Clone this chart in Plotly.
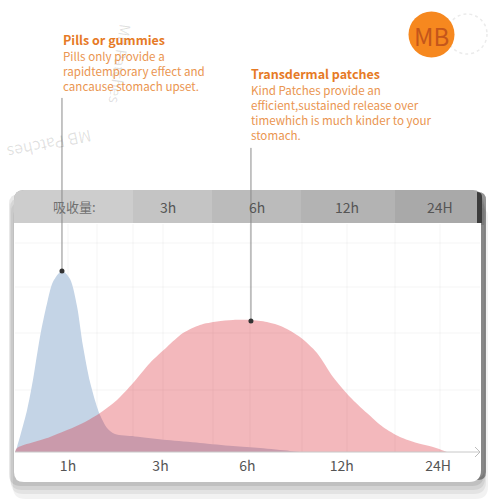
import plotly.graph_objects as go

W = H = 500
def X(p): return p / W
def Y(p): return 1 - p / H

# ---------------- data ----------------
time_labels = ["1h", "3h", "6h", "12h", "24H"]
time_pos = [1.0, 2.0, 2.94, 3.96, 5.0]
header_title = "吸收量:"
header_labels = ["3h", "6h", "12h", "24H"]

# Pills / gummies absorption (relative, peak = 100)
pill_x = [0.427, 0.449, 0.557, 0.622, 0.697, 0.773, 0.838, 0.935, 1.022, 1.097,
          1.162, 1.238, 1.314, 1.346, 1.422, 1.508, 1.724, 2.070, 2.427, 2.784,
          3.076, 3.400, 3.508]
pill_y = [0, 2.8, 23, 40, 63.5, 82, 94, 100, 95.6, 80.7,
          58.6, 38.7, 24.9, 20.4, 13.3, 9.9, 8.6, 6.6, 5.0, 3.3,
          2.2, 0.6, 0]

# Transdermal patch absorption
patch_x = [0.427, 0.449, 0.805, 1.162, 1.346, 1.530, 1.703, 1.886, 2.070, 2.243,
           2.427, 2.611, 2.784, 2.968, 3.151, 3.324, 3.508, 3.692, 3.865, 4.049,
           4.232, 4.405, 4.589, 4.773, 4.946, 5.097]
patch_y = [0, 2.2, 8.3, 16.0, 21.5, 28.7, 38.1, 49.2, 58.0, 65.7,
           70.2, 72.1, 72.9, 72.9, 71.8, 69.1, 63.5, 54.7, 41.4, 30.4,
           21.5, 13.8, 8.3, 5.0, 2.8, 0]

pill_peak = (0.935, 100)
patch_peak = (2.978, 72.4)
pill_leader_top = 195.6
patch_leader_top = 168.0

pill_title = "Pills or gummies"
pill_lines = ["Pills only provide a", "rapidtemporary effect and", "cancause stomach upset."]
patch_title = "Transdermal patches"
patch_lines = ["Kind Patches provide an", "efficient,sustained release over",
               "timewhich is much kinder to your", "stomach."]

FONT = "Noto Sans CJK SC"
TITLE_C = "#e67a26"
BODY_C = "#ea9550"

# ---------------- helpers ----------------
def rrect(x0, y0, x1, y1, r_tl, r_tr, r_br, r_bl):
    pts = []
    pts.append(f"M {X(x0 + r_tl)},{Y(y0)}")
    pts.append(f"L {X(x1 - r_tr)},{Y(y0)}")
    pts.append(f"Q {X(x1)},{Y(y0)} {X(x1)},{Y(y0 + r_tr)}")
    pts.append(f"L {X(x1)},{Y(y1 - r_br)}")
    pts.append(f"Q {X(x1)},{Y(y1)} {X(x1 - r_br)},{Y(y1)}")
    pts.append(f"L {X(x0 + r_bl)},{Y(y1)}")
    pts.append(f"Q {X(x0)},{Y(y1)} {X(x0)},{Y(y1 - r_bl)}")
    pts.append(f"L {X(x0)},{Y(y0 + r_tl)}")
    pts.append(f"Q {X(x0)},{Y(y0)} {X(x0 + r_tl)},{Y(y0)}")
    pts.append("Z")
    return " ".join(pts)

shapes = []
def pshape(path, fill, line=None, layer="below"):
    shapes.append(dict(type="path", xref="paper", yref="paper", path=path,
                       fillcolor=fill, line=dict(width=0) if line is None else line,
                       layer=layer))

# card shadow
for dx, dy, a in [(7, 17, 0.05), (5, 12, 0.06), (4, 8, 0.07), (3, 4, 0.09)]:
    pshape(rrect(14 + dx - 8, 190 + dy, 481 + dx, 482 + dy, 10, 10, 12, 12),
           f"rgba(0,0,0,{a})")
# dark right edge
pshape(rrect(470, 192, 486, 480, 0, 8, 8, 0), "rgba(60,60,60,0.55)")
pshape(rrect(470, 225, 484, 478, 0, 0, 8, 0), "rgba(150,150,150,0.5)")
# card body
pshape(rrect(14, 190, 481, 482, 10, 8, 12, 10), "white")

# grid
for gx in [68, 97, 133, 163, 213, 250, 302, 347, 395, 440]:
    shapes.append(dict(type="line", xref="paper", yref="paper", x0=X(gx), x1=X(gx),
                       y0=Y(224), y1=Y(452), line=dict(color="rgba(0,0,0,0.045)", width=1),
                       layer="below"))
for gy in [243, 287, 333, 390]:
    shapes.append(dict(type="line", xref="paper", yref="paper", x0=X(15), x1=X(480),
                       y0=Y(gy), y1=Y(gy), line=dict(color="rgba(0,0,0,0.045)", width=1),
                       layer="below"))

# header bar
pshape(rrect(14, 190, 481, 223, 10, 8, 0, 0), "#a9a9a9")
pshape(rrect(14, 190, 133, 223, 10, 0, 0, 0), "#cdcdcd")
for (a, b, c) in [(133, 212, "#c4c4c4"), (212, 301, "#bbbbbb"), (301, 395, "#b3b3b3")]:
    shapes.append(dict(type="rect", xref="paper", yref="paper", x0=X(a), x1=X(b),
                       y0=Y(223), y1=Y(190), fillcolor=c, line=dict(width=0), layer="below"))
pshape(rrect(477, 192, 482, 223, 0, 5, 0, 0), "#3c3c3c")

# baseline + arrow
shapes.append(dict(type="line", xref="paper", yref="paper", x0=X(15), x1=X(480),
                   y0=Y(452), y1=Y(452), line=dict(color="#c8c8c8", width=1), layer="above"))
for ay in [447, 457]:
    shapes.append(dict(type="line", xref="paper", yref="paper", x0=X(475), x1=X(480),
                       y0=Y(ay), y1=Y(452), line=dict(color="#bdbdbd", width=1), layer="above"))

# logo
shapes.append(dict(type="circle", xref="paper", yref="paper", x0=X(447), x1=X(487),
                   y0=Y(14), y1=Y(54), line=dict(color="#ebebeb", width=1.5, dash="dot"),
                   layer="below"))
shapes.append(dict(type="circle", xref="paper", yref="paper", x0=X(408.5), x1=X(454.5),
                   y0=Y(11.5), y1=Y(57.5), fillcolor="#f6881f", line=dict(width=0),
                   layer="below"))

# ---------------- traces ----------------
fig = go.Figure()
fig.add_trace(go.Scatter(x=pill_x, y=pill_y, mode="lines", line=dict(width=0, shape="spline", smoothing=0.8),
                         fill="tozeroy", fillcolor="#c4d4e6", hoverinfo="skip"))
fig.add_trace(go.Scatter(x=patch_x, y=patch_y, mode="lines", line=dict(width=0, shape="spline", smoothing=0.8),
                         fill="tozeroy", fillcolor="rgba(215,25,40,0.31)", hoverinfo="skip"))
for (px_, py_), top in [(pill_peak, pill_leader_top), (patch_peak, patch_leader_top)]:
    fig.add_trace(go.Scatter(x=[px_, px_], y=[py_, top], mode="lines",
                             line=dict(color="#8a8a8a", width=1), hoverinfo="skip"))
fig.add_trace(go.Scatter(x=[pill_peak[0], patch_peak[0]], y=[pill_peak[1], patch_peak[1]],
                         mode="markers", marker=dict(color="#333333", size=5), hoverinfo="skip"))

# ---------------- annotations ----------------
ann = []
def text(x, y, s, size, color, bold=False, anchor="left", angle=0):
    ann.append(dict(xref="paper", yref="paper", x=X(x), y=Y(y), text=f"<b>{s}</b>" if bold else s,
                    showarrow=False, xanchor=anchor, yanchor="middle", textangle=angle,
                    align="left", font=dict(family=FONT, size=size, color=color)))

# watermarks
text(50, 145, "MB Patches", 16, "rgba(0,0,0,0.12)", anchor="center", angle=168)
text(121, 64, "MB Patches", 15, "rgba(0,0,0,0.12)", anchor="center", angle=98)

text(61, 39.5, pill_title, 12.5, TITLE_C, bold=True)
text(61, 71, "<br>".join(pill_lines), 11.6, BODY_C)
text(249, 73.5, patch_title, 12.5, TITLE_C, bold=True)
text(249, 112.5, "<br>".join(patch_lines), 11.6, BODY_C)

text(74, 207, header_title, 13, "#707070", anchor="center")
for s, hx in zip(header_labels, [168, 257, 347, 440]):
    text(hx, 207, s, 14, "#555555", anchor="center")

text(431.5, 35, "MB", 24, "#c4561b", anchor="center")

fig.update_layout(
    width=W, height=H, margin=dict(l=0, r=0, t=0, b=0),
    paper_bgcolor="white", plot_bgcolor="rgba(0,0,0,0)",
    showlegend=False, shapes=shapes, annotations=ann,
    xaxis=dict(domain=[0, 1], range=[0.2649, 5.6703], tickvals=time_pos, ticktext=time_labels,
               showgrid=False, zeroline=False, showline=False, ticks="",
               tickfont=dict(family=FONT, size=14, color="#555555"), ticklabelstandoff=4,
               fixedrange=True),
    yaxis=dict(domain=[0.096, 1], range=[0, 249.7], visible=False, fixedrange=True),
)

fig.write_html("out.html", post_script="document.body.style.margin='0';",
               config={"displayModeBar": False})
